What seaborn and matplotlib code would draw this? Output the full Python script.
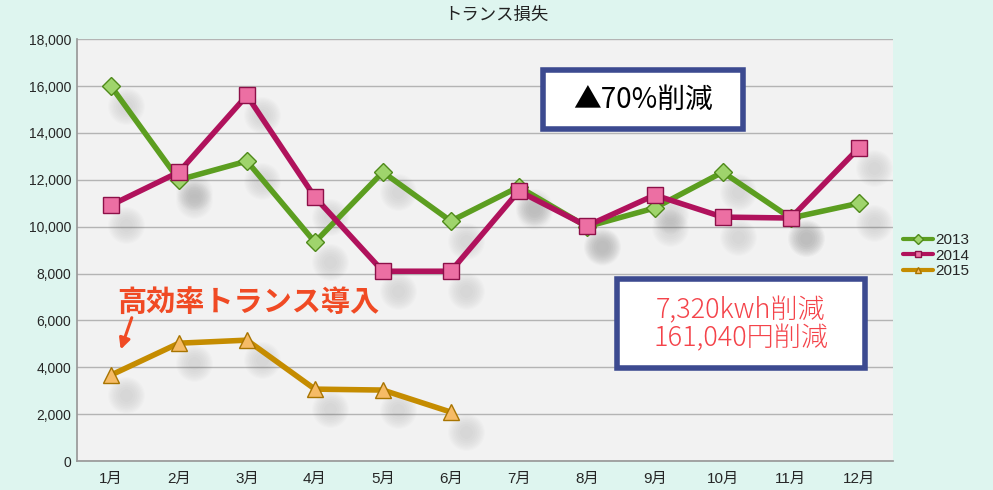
#!/usr/bin/env python3
import matplotlib
matplotlib.use("Agg")
import matplotlib.pyplot as plt
import matplotlib.ticker as mticker
from matplotlib.lines import Line2D
from matplotlib.patches import Rectangle
import numpy as np
import pandas as pd
import seaborn as sns

months = ["1月", "2月", "3月", "4月", "5月", "6月", "7月", "8月", "9月", "10月", "11月", "12月"]
loss_2013 = [16000, 12000, 12800, 9340, 12330, 10240, 11700, 10000, 10800, 12330, 10370, 11000]
loss_2014 = [10920, 12330, 15600, 11260, 8100, 8100, 11520, 10030, 11350, 10410, 10370, 13350]
loss_2015 = [3670, 5030, 5160, 3070, 3030, 2090]

sns.set_theme(style="whitegrid")
plt.rcParams['font.family'] = ['Liberation Sans', 'Noto Sans CJK JP']

bg = "#def5ef"
fig = plt.figure(figsize=(9.93, 4.90), dpi=100, facecolor=bg)
ax = fig.add_axes([0.0775, 0.059, 0.8215, 0.861])
ax.set_facecolor("#f2f2f2")

series = [
    ("2013", loss_2013, "#5c9e20", "D", "#9fd46c", "#4f8a1a", 9),
    ("2014", loss_2014, "#b0125c", "s", "#ec6fa3", "#8c1048", 12),
    ("2015", loss_2015, "#c58c00", "^", "#f6bb66", "#a87400", 12),
]

# blurred drop shadows under the markers
for name, vals, lc, mk, mfc, mec, ms in series:
    xs = np.arange(len(vals)) + 0.22
    ys = np.array(vals) - 850
    for s in np.linspace(80, 700, 9):
        ax.scatter(xs, ys, s=s, color="#444444", alpha=0.016, linewidths=0, zorder=1)

for name, vals, lc, mk, mfc, mec, ms in series:
    df = pd.DataFrame({"month": np.arange(len(vals)), "value": vals})
    sns.lineplot(data=df, x="month", y="value", ax=ax, color=lc, linewidth=4,
                 marker=mk, markersize=ms, markerfacecolor=mfc, markeredgecolor=mec,
                 markeredgewidth=1, zorder=3, legend=False)

ax.set_xlim(-0.5, 11.5)
ax.set_ylim(0, 18000)
ax.set_xticks(np.arange(12))
ax.set_xticklabels(months, fontsize=11)
ax.xaxis.set_minor_locator(mticker.FixedLocator(np.arange(-0.5, 12, 1)))
ax.tick_params(axis="x", which="major", length=0, pad=8)
ax.tick_params(axis="x", which="minor", length=4, color="#999999")
ax.set_yticks(np.arange(0, 18001, 2000))
ax.yaxis.set_major_formatter(mticker.FuncFormatter(lambda v, p: f"{int(v):,}"))
ax.tick_params(axis="y", labelsize=10, length=0, pad=4)
ax.grid(axis="y", color="#b4b4b4", linewidth=1)
ax.grid(axis="x", visible=False)
ax.set_xlabel("")
ax.set_ylabel("")
for side in ["top", "right"]:
    ax.spines[side].set_visible(False)
ax.spines["left"].set_color("#999999")
ax.spines["bottom"].set_color("#999999")

handles = [Line2D([], [], color=lc, linewidth=3, marker=mk, markersize=5,
                  markerfacecolor=mfc, markeredgecolor=mec)
           for name, vals, lc, mk, mfc, mec, ms in series]
labels = [s[0] for s in series]
ax.legend(handles, labels, loc="upper left", bbox_to_anchor=(1.005, 0.555), frameon=False,
          fontsize=11, handlelength=2.0, handletextpad=0.1, labelspacing=0.1,
          borderaxespad=0)

fig.text(0.50, 0.970, "トランス損失", ha="center", va="center", fontsize=12.5,
         family=["Noto Sans CJK JP"], color="#222222")

for x0, y0, w, h in [(0.571, 0.787, 0.245, 0.140), (0.662, 0.220, 0.304, 0.211)]:
    ax.add_patch(Rectangle((x0, y0), w, h, transform=ax.transAxes, facecolor="white",
                           edgecolor="#3c4a90", linewidth=4, zorder=5))
ax.text(0.6935, 0.857, "▲70%削減", transform=ax.transAxes, ha="center", va="center",
        fontsize=20, family=["Noto Sans CJK JP", "DejaVu Sans"], color="black", zorder=6)
ax.text(0.814, 0.325, "7,320kwh削減\n161,040円削減", transform=ax.transAxes,
        ha="center", va="center", fontsize=19.5, family=["Noto Sans CJK JP"],
        fontweight="light", color="#f4434a", linespacing=1.0, zorder=6)

ax.annotate("", xy=(0.13, 4650), xytext=(0.32, 6230),
            arrowprops=dict(arrowstyle="-|>", color="#f04a24", linewidth=2.2, mutation_scale=16))
ax.text(0.09, 6780, "高効率トランス導入", ha="left", va="center", fontsize=21,
        family=["Noto Sans CJK JP"], fontweight="bold", color="#f04a24")

fig.savefig("out.png", dpi=100, facecolor=bg)
